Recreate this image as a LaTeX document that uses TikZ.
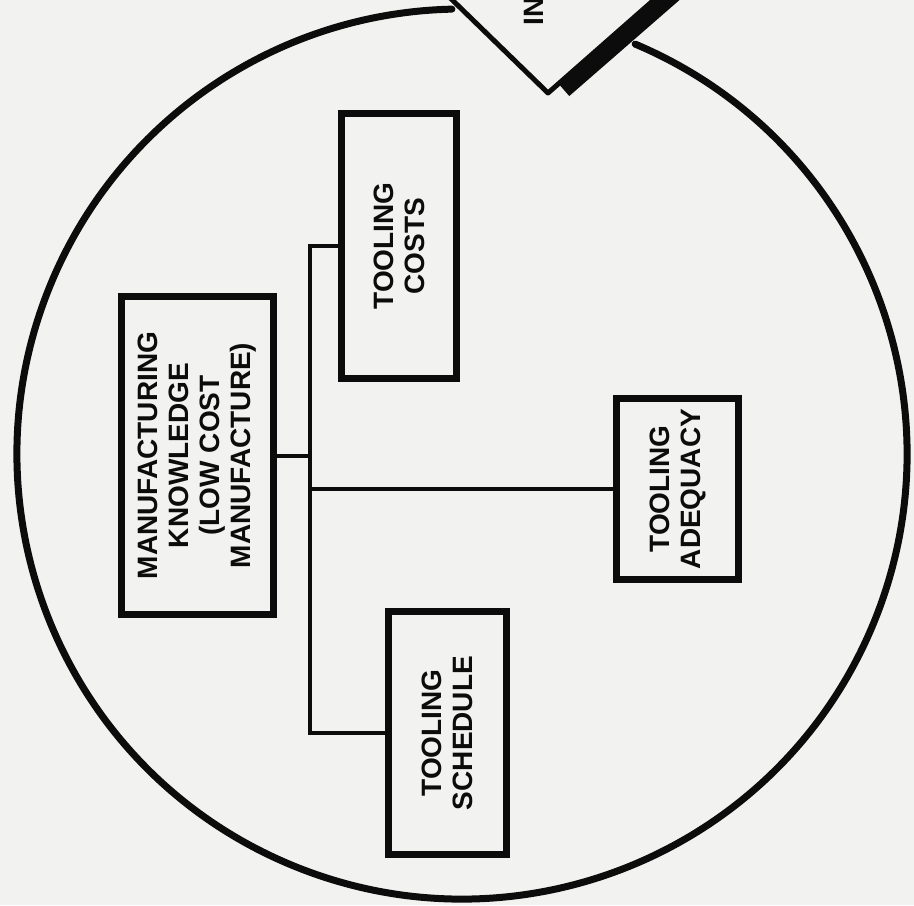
\documentclass[tikz,border=0pt]{standalone}
\usepackage{fontspec}
\setmainfont{Liberation Sans}
\definecolor{paper}{RGB}{242,242,240}
\definecolor{ink}{RGB}{12,12,12}
\usetikzlibrary{calc}
\usetikzlibrary{positioning}

\begin{document}
\begin{tikzpicture}[%
    x=0.5pt,y=-0.5pt,
    unitbox/.style={draw=ink,fill=paper,line width=3.5pt,rotate=90,
      align=center,inner sep=0pt,text=ink,
      font=\bfseries\fontsize{14}{15.5}\selectfont},
    link/.style={draw=ink,line width=2pt},
    rim/.style={draw=ink,line width=3.5pt,line cap=round}
  ]
  \def\R{445}
  \useasboundingbox (0,0) rectangle (914,905);
  \fill [paper] (0,0) rectangle (914,905);
  \clip (0,0) rectangle (914,905);

  % outer circle, open at the top
  \coordinate (hub) at (462,454);
  \draw [rim] ($(hub)+(-67.1:\R)$) arc (-67.1:268.7:\R);

  % notch with the cut-off label
  \draw [draw=ink,line width=2.5pt,line join=round] (441,-11) -- (548,93) -- (672,-16);
  \draw [draw=ink,line width=8pt] (564,90) -- (688,-18);
  \node [rotate=90,anchor=base west,inner sep=0pt,text=ink,
    font=\bfseries\fontsize{14}{15.5}\selectfont] (inlabel) at (543,26) {IN};

  % boxes
  \node [unitbox,minimum width=159pt,minimum height=76pt] (knowledge) at (197.5,455.5)
    {MANUFACTURING\\KNOWLEDGE\\(LOW COST\\MANUFACTURE)};
  \node [unitbox,minimum width=132.5pt,minimum height=57.5pt] (costs) at (399,246)
    {TOOLING\\COSTS};
  \node [unitbox,minimum width=90.5pt,minimum height=61pt] (adequacy) at (677.5,489)
    {TOOLING\\ADEQUACY};
  \node [unitbox,minimum width=121.5pt,minimum height=59pt] (schedule) at (447.5,733)
    {TOOLING\\SCHEDULE};

  % tree lines
  \coordinate (bus) at (310,0);
  \draw [link] (costs.north) -| (bus |- schedule.north) -- (schedule.north);
  \draw [link] (knowledge.south) -- (knowledge.south -| bus);
  \draw [link] (bus |- adequacy.north) -- (adequacy.north);
\end{tikzpicture}
\end{document}
